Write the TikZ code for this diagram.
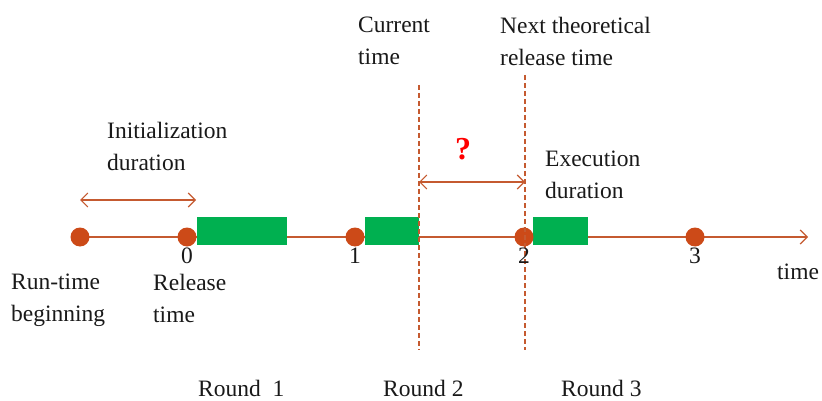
\documentclass[tikz,border=0pt]{standalone}
\usepackage{fontspec}
\setmainfont{Liberation Serif}
\usetikzlibrary{arrows.meta}
\definecolor{rline}{HTML}{C55A30}
\definecolor{rdot}{HTML}{CC4A18}
\definecolor{gbox}{HTML}{00B050}
\tikzset{
  lbl/.style={font=\fontsize{23.5}{31.5}\selectfont, align=left, inner sep=0pt, text=black!90},
  num/.style={font=\fontsize{23.5}{26}\selectfont, inner sep=0pt, text=black!90},
  dot/.style={circle, fill=rdot, minimum size=19pt, inner sep=0pt},
  exec/.style={fill=gbox, draw=none, minimum height=28pt, inner sep=0pt, anchor=west},
  axis/.style={draw=rline, line width=1.2pt},
  dbl/.style={draw=rline, line width=1.1pt, {Straight Barb[length=7pt,width=14pt]}-{Straight Barb[length=7pt,width=14pt]}},
  vdash/.style={draw=rline, line width=1.1pt, dash pattern=on 5pt off 3pt},
}
\begin{document}
\begin{tikzpicture}[x=1pt,y=-1pt]
\useasboundingbox (0,0) rectangle (822,401);
% axis
\coordinate (ax0) at (80,237);
\coordinate (axend) at (808,237);
\draw[axis, -{Straight Barb[length=7pt,width=14pt]}] (ax0) -- (axend);
% exec boxes
\node[exec, minimum width=90pt] (b1) at (197,231) {};
\node[exec, minimum width=54pt] (b2) at (365,231) {};
\node[exec, minimum width=55pt] (b3) at (533,231) {};
% dashed lines
\coordinate (d1t) at (419,85);
\coordinate (d1b) at (419,350);
\coordinate (d2t) at (525,75);
\coordinate (d2b) at (525,350);
\draw[vdash] (d1t) -- (d1b);
% dots
\node[dot] (p0) at (80,237) {};
\node[dot] (p1) at (187,237) {};
\node[dot] (p2) at (355,237) {};
\node[dot] (p3) at (524,237) {};
\node[dot] (p4) at (695,237) {};
\draw[vdash] (d2t) -- (d2b);
% numbers
\node[num] (n0) at (187,256) {0};
\node[num] (n1) at (355,256) {1};
\node[num] (n2) at (524,256) {2};
\node[num] (n3) at (695,256) {3};
\node[num, anchor=west] (tm) at (777,272) {time};
% double arrows
\coordinate (ia) at (80,200);
\coordinate (ib) at (196,200);
\draw[dbl] (ia) -- (ib);
\coordinate (qa) at (419,182);
\coordinate (qb) at (525,182);
\draw[dbl] (qa) -- (qb);
\node[font=\fontsize{32}{32}\selectfont\bfseries, text=red, inner sep=0pt] (q) at (463,149) {?};
% labels
\node[lbl, anchor=north west] (rt) at (11,274) {Run-time\\beginning};
\node[lbl, anchor=north west] (rel) at (153,274) {Release\\time};
\node[lbl, anchor=north west] (ini) at (107,122) {Initialization\\duration};
\node[lbl, anchor=north west] (cur) at (358,17) {Current\\time};
\node[lbl, anchor=north west] (nxt) at (500,17) {Next theoretical\\release time};
\node[lbl, anchor=north west] (exe) at (545,151) {Execution\\duration};
\node[lbl, anchor=base west] (r1) at (198,396) {Round\ \ 1};
\node[lbl, anchor=base west] (r2) at (383,396) {Round 2};
\node[lbl, anchor=base west] (r3) at (561,396) {Round 3};
\end{tikzpicture}
\end{document}
